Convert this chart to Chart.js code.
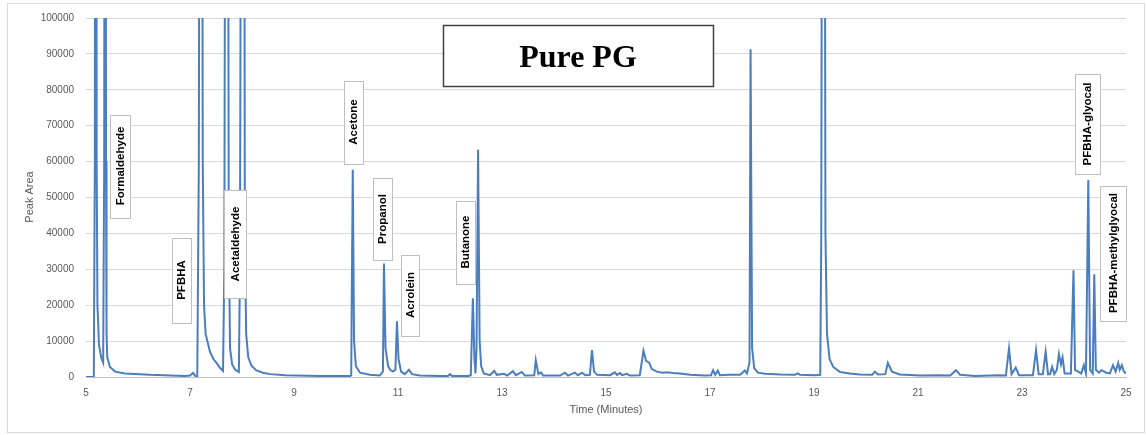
<!DOCTYPE html>
<html>
<head>
<meta charset="utf-8">
<script src="https://cdn.jsdelivr.net/npm/chart.js@4"></script>
<style>
  html, body { margin: 0; padding: 0; background: #ffffff; }
  #wrap { width: 1146px; height: 435px; position: relative; }
</style>
</head>
<body>
<div id="wrap"><canvas id="c" width="1146" height="435"></canvas></div>
<script>
// Retention time (minutes) of each sampled point of the chromatogram
const timeMin = [
  5.00, 5.15, 5.17, 5.19, 5.205, 5.22, 5.25, 5.29, 5.33, 5.35, 5.37, 5.385, 5.395, 5.41, 5.46, 5.56, 5.75, 6.23, 6.90, 7.00, 7.06, 7.10, 7.14,
  7.17, 7.21, 7.245, 7.27, 7.30, 7.385, 7.45, 7.52, 7.58, 7.635, 7.66, 7.71, 7.745, 7.77, 7.81, 7.87, 7.94, 7.96, 8.02, 8.055, 8.08, 8.12, 8.18, 8.27, 8.40, 8.54, 8.83, 9.50, 10.08,
  10.10, 10.13, 10.155, 10.19, 10.27, 10.46, 10.65, 10.71, 10.73, 10.76, 10.81, 10.85, 10.90, 10.95, 10.98, 11.01, 11.06, 11.13, 11.21, 11.27, 11.42, 11.81, 11.96, 12.00, 12.04, 12.35,
  12.40, 12.44, 12.47, 12.49, 12.51, 12.54, 12.57, 12.60, 12.65, 12.77, 12.85, 12.90, 13.04, 13.10, 13.21, 13.27, 13.38, 13.44, 13.62, 13.65, 13.70, 13.75, 13.79,
  14.12, 14.21, 14.27, 14.40, 14.46, 14.54, 14.60, 14.69, 14.73, 14.77, 14.83, 15.08, 15.17, 15.21, 15.27, 15.31, 15.40, 15.46, 15.65, 15.72, 15.77, 15.83, 15.88, 15.98,
  16.08, 16.17, 16.29, 16.42, 16.62, 16.90, 17.02, 17.06, 17.10, 17.15, 17.19, 17.35, 17.58, 17.67, 17.71, 17.76, 17.78, 17.81, 17.85, 17.92, 18.06, 18.35, 18.63, 18.69, 18.73,
  19.02, 19.12, 19.14, 19.18, 19.22, 19.25, 19.30, 19.37, 19.50, 19.69, 19.88, 20.12, 20.17, 20.23, 20.37, 20.42, 20.50, 20.65, 21.04, 21.38, 21.62, 21.73, 21.81, 22.10, 22.54,
  22.69, 22.75, 22.80, 22.88, 22.94, 23.21, 23.27, 23.32, 23.40, 23.455, 23.50, 23.54, 23.58, 23.62, 23.67, 23.71, 23.75, 23.78, 23.82, 23.94, 23.99, 24.02, 24.08, 24.14,
  24.19, 24.23, 24.275, 24.31, 24.36, 24.39, 24.42, 24.48, 24.53, 24.62, 24.69, 24.75, 24.80, 24.85, 24.88, 24.92, 24.96, 25.00
];
// Peak area read at each of those times (values above 100000 run off the top)
const peakArea = [
  0, 0, 60000, 400000, 60000, 20000, 9000, 5500, 4000, 60000, 400000, 60000, 12000, 5500, 2800, 1500, 1000, 600, 300, 400, 1100, 300, 200,
  60000, 400000, 60000, 20000, 12000, 7000, 5000, 3700, 2500, 1700, 30000, 400000, 40000, 8000, 3500, 2000, 1400, 30000, 400000, 40000, 12000, 5500, 3200, 1900, 1200, 800, 500, 300, 300,
  500, 57700, 10000, 3000, 1200, 600, 400, 1500, 31600, 8000, 3000, 2000, 1500, 2000, 15500, 5000, 1500, 800, 2000, 800, 400, 300, 300, 800, 300, 300,
  500, 21900, 5000, 1000, 8000, 63300, 10000, 3000, 1000, 500, 1700, 600, 900, 400, 1600, 500, 1400, 400, 500, 4700, 800, 1300, 400,
  400, 1200, 400, 1200, 500, 1200, 500, 600, 7500, 1500, 600, 500, 1300, 600, 1100, 500, 900, 400, 500, 7300, 4500, 4000, 2200, 1500,
  1200, 1300, 1100, 1000, 600, 400, 500, 1900, 600, 1800, 500, 600, 600, 1800, 1000, 4000, 91300, 8000, 2500, 1200, 900, 700, 600, 1000, 600,
  500, 600, 40000, 400000, 40000, 12000, 5000, 2800, 1400, 1000, 700, 600, 1500, 700, 800, 3900, 1500, 700, 400, 500, 400, 1900, 600, 300, 500,
  400, 8000, 800, 2600, 500, 500, 7500, 800, 800, 7000, 800, 800, 2800, 800, 2000, 6400, 3500, 5500, 1000, 1000, 29700, 2000, 1500, 1000,
  3300, 1000, 54900, 2000, 1000, 28600, 2000, 1200, 1900, 1200, 1000, 3300, 1500, 3900, 2000, 3300, 1500, 1000
];
// Axis ticks
const xTicks = [5, 7, 9, 11, 13, 15, 17, 19, 21, 23, 25];
const yTicks = [0, 10000, 20000, 30000, 40000, 50000, 60000, 70000, 80000, 90000, 100000];
// Compound labels
const compoundNames = ['Formaldehyde', 'PFBHA', 'Acetaldehyde', 'Acetone', 'Propanol', 'Acrolein', 'Butanone', 'PFBHA-glyocal', 'PFBHA-methylglyocal'];
const chartTitle = 'Pure PG';

const points = timeMin.map((t, i) => ({ x: t, y: peakArea[i] }));

// label box geometry (center x,y in px, width, height)
const labelBoxes = [
  [120, 166, 20, 103],
  [181, 280, 19, 85],
  [235, 244, 22, 108],
  [353, 122, 19, 83],
  [382, 219, 19, 82],
  [410, 295, 18, 81],
  [465, 242, 19, 83],
  [1087, 124, 25, 100],
  [1113, 253, 26, 135]
];

const decor = {
  id: 'decor',
  beforeDraw(chart) {
    const ctx = chart.ctx;
    ctx.save();
    ctx.fillStyle = '#ffffff';
    ctx.fillRect(0, 0, chart.width, chart.height);
    ctx.strokeStyle = '#d9d9d9';
    ctx.lineWidth = 1;
    ctx.strokeRect(7.5, 3.5, 1137, 429);
    ctx.restore();
  },
  afterDraw(chart) {
    const ctx = chart.ctx;
    ctx.save();
    ctx.fillStyle = '#595959';
    ctx.font = '11px "Liberation Sans", Arial, sans-serif';
    ctx.textAlign = 'center';
    ctx.textBaseline = 'middle';
    ctx.fillText('Time (Minutes)', 606, 410);
    ctx.save();
    ctx.translate(30, 197);
    ctx.rotate(-Math.PI / 2);
    ctx.fillText('Peak Area', 0, 0);
    ctx.restore();

    ctx.fillStyle = '#ffffff';
    ctx.fillRect(443, 25, 271, 62);
    ctx.strokeStyle = '#404040';
    ctx.lineWidth = 1.5;
    ctx.strokeRect(443.5, 25.5, 270, 61);
    ctx.fillStyle = '#000000';
    ctx.font = 'bold 32px "Liberation Serif", "Times New Roman", serif';
    ctx.textAlign = 'center';
    ctx.textBaseline = 'alphabetic';
    ctx.fillText(chartTitle, 578, 67);

    compoundNames.forEach((name, i) => {
      const [cx, cy, w, h] = labelBoxes[i];
      const x0 = Math.round(cx - w / 2) + 0.5, y0 = Math.round(cy - h / 2) + 0.5;
      ctx.fillStyle = '#ffffff';
      ctx.fillRect(x0, y0, w, h);
      ctx.strokeStyle = '#bfbfbf';
      ctx.lineWidth = 1;
      ctx.strokeRect(x0, y0, w, h);
      ctx.save();
      ctx.translate(cx + 1, cy);
      ctx.rotate(-Math.PI / 2);
      ctx.fillStyle = '#000000';
      ctx.font = 'bold 11.5px "Liberation Sans", Arial, sans-serif';
      ctx.textAlign = 'center';
      ctx.textBaseline = 'middle';
      ctx.fillText(name, 0, 0);
      ctx.restore();
    });
    ctx.restore();
  }
};

new Chart(document.getElementById('c'), {
  type: 'line',
  data: {
    datasets: [{
      data: points,
      borderColor: '#4a7ebf',
      borderWidth: 2,
      pointRadius: 0,
      tension: 0,
      fill: false
    }]
  },
  options: {
    responsive: false,
    animation: false,
    plugins: { legend: { display: false }, tooltip: { enabled: false } },
    layout: { padding: { left: 0, right: 20, top: 17, bottom: 0 } },
    scales: {
      x: {
        type: 'linear',
        min: 5, max: 25,
        afterBuildTicks: (s) => { s.ticks = xTicks.map(v => ({ value: v })); },
        afterFit: (s) => { s.height = 58; },
        grid: { display: false, drawTicks: false },
        border: { display: true, color: '#bfbfbf', width: 1 },
        ticks: { color: '#595959', font: { size: 10, family: '"Liberation Sans", Arial, sans-serif' }, padding: 10, maxRotation: 0 }
      },
      y: {
        min: 0, max: 100000,
        afterBuildTicks: (s) => { s.ticks = yTicks.map(v => ({ value: v })); },
        afterFit: (s) => { s.width = 86; },
        grid: { color: '#d9d9d9', drawTicks: false },
        border: { display: false },
        ticks: { color: '#595959', font: { size: 10, family: '"Liberation Sans", Arial, sans-serif' }, padding: 12, callback: (v) => String(v) }
      }
    }
  },
  plugins: [decor]
});
</script>
</body>
</html>
